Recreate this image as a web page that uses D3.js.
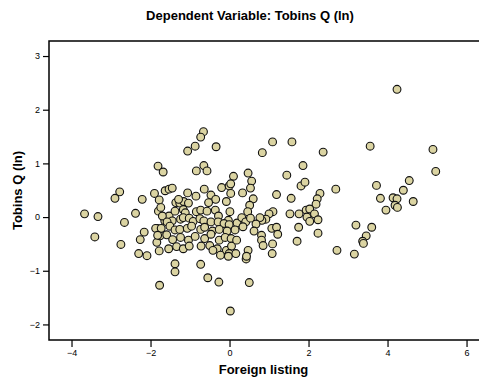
<!DOCTYPE html>
<html>
<head>
<meta charset="utf-8">
<script src="https://cdn.jsdelivr.net/npm/d3@7"></script>
<style>
  body { margin: 0; background: #fff; }
  svg text { font-family: "Liberation Sans", Arial, sans-serif; fill: #000; }
</style>
</head>
<body>
<div id="chart"></div>
<script>
// values
const chartTitle = 'Dependent Variable: Tobins Q (ln)';
const xTitle = 'Foreign listing';
const yTitle = 'Tobins Q (ln)';
const xTicks = [-4, -2, 0, 2, 4, 6];
const yTicks = [-2, -1, 0, 1, 2, 3];

// foreign listing (x) and Tobins Q ln (y), one pair per firm
const foreignListing = [
  -3.67, -3.33, -2.66, -2.38, -3.41, -2.75, -2.16, -2.26, -2.30, -2.09,
  -1.78, -1.54, -1.38, -1.38, -1.77, -1.84, -1.83, -1.76, -1.59, -1.64,
  -1.53, -1.80, -1.74, -1.06, -1.81, -1.68, -2.78, -2.90, -2.21, -1.90,
  -1.78, -1.63, -1.53, -1.45, -1.06, -0.87, -0.34, -0.66, -0.73, -0.65,
  -0.84, -0.57, 0.10, -0.85, -0.64, -0.47, -0.20, -0.01, 0.03, 0.03,
  -0.08, -0.35, -0.53, -1.36, -1.26, -1.16, -1.04, -1.29, -1.38, -1.17,
  -1.12, -0.84, -0.73, -0.57, -0.36, -0.28, 0.01, -0.03, 0.19, -1.70,
  -1.45, -1.58, -1.24, -1.17, -1.02, -0.92, -0.75, -0.65, -0.47, -0.29,
  -0.14, -0.01, -1.87, -1.73, -1.51, -1.38, -1.26, -1.07, -0.96, -0.73,
  -0.63, -0.43, -0.26, -0.06, 0.14, -1.82, -1.44, -1.24, -1.04, -0.87,
  -0.63, -0.47, -0.26, -0.11, 0.04, -1.34, -1.17, -1.02, -0.72, -0.50,
  -0.31, -0.08, 0.05, -0.23, -0.01, -0.73, -0.55, -0.27, 0.02, 0.50,
  0.42, -0.03, -0.42, 1.09, 1.58, 0.83, 2.37, 1.86, 1.45, 1.81,
  1.91, 0.47, 0.56, 0.53, 0.33, 1.19, 1.56, 2.29, 2.69, 2.22,
  2.19, 0.60, 0.51, 1.10, 1.00, 0.92, 0.82, 0.77, 1.53, 1.76,
  1.94, 2.03, 2.15, 1.96, 2.03, 2.24, 1.75, 2.24, 1.71, 0.46,
  0.31, 0.41, 0.53, 0.67, 1.07, 1.19, 1.22, 0.62, 0.81, 0.81,
  0.85, 1.09, 1.08, 0.47, 0.18, 0.34, 0.43, 0.16, 2.72, 3.16,
  3.20, 3.60, 3.46, 3.37, 3.39, 3.72, 4.55, 4.40, 3.82, 4.14,
  4.24, 4.19, 4.25, 3.96, 4.65, 4.24, 3.56, 5.15, 5.22
];
const tobinsQ = [
  0.06, 0.01, -0.10, 0.07, -0.37, -0.51, -0.28, -0.42, -0.68, -0.72,
  -0.63, -0.59, -0.87, -1.02, -1.27, -0.47, -0.21, -0.35, -0.33, -0.07,
  0.02, 0.11, 0.18, 1.23, 0.95, 0.84, 0.47, 0.35, 0.33, 0.44,
  0.32, 0.49, 0.52, 0.54, 0.45, 1.32, 1.31, 1.59, 1.49, 0.96,
  0.86, 0.86, 0.76, 0.39, 0.52, 0.41, 0.55, 0.58, 0.62, 0.44,
  0.29, 0.33, 0.27, 0.27, 0.26, 0.29, 0.26, 0.33, 0.11, 0.14,
  0.08, 0.10, 0.13, 0.11, 0.13, 0.02, 0.10, -0.06, -0.11, 0.02,
  -0.07, -0.09, -0.04, -0.01, -0.02, -0.08, -0.03, -0.07, -0.09, -0.09,
  -0.12, -0.14, -0.21, -0.21, -0.17, -0.24, -0.23, -0.21, -0.17, -0.23,
  -0.19, -0.26, -0.23, -0.26, -0.24, -0.34, -0.42, -0.38, -0.43, -0.36,
  -0.40, -0.32, -0.43, -0.38, -0.40, -0.55, -0.59, -0.54, -0.54, -0.53,
  -0.59, -0.62, -0.54, -0.71, -0.68, -0.88, -1.13, -1.21, -1.75, -1.22,
  -0.78, -0.73, -0.62, 1.40, 1.40, 1.20, 1.21, 0.96, 0.78, 0.58,
  0.65, 0.82, 0.67, 0.54, 0.45, 0.42, 0.35, 0.44, 0.52, 0.34,
  0.24, 0.34, 0.22, 0.10, 0.06, -0.04, -0.06, -0.01, 0.06, 0.06,
  0.13, 0.15, 0.06, 0.00, -0.08, -0.05, -0.19, -0.30, -0.45, 0.10,
  -0.01, -0.09, -0.02, -0.13, -0.21, -0.19, -0.32, -0.26, -0.34, -0.43,
  -0.53, -0.50, -0.68, -0.62, -0.43, -0.18, -0.73, -0.68, -0.62, -0.69,
  -0.15, -0.19, -0.35, -0.45, -0.49, 0.59, 0.68, 0.50, 0.35, 0.36,
  0.34, 0.22, 0.18, 0.13, 0.29, 2.38, 1.32, 1.26, 0.85
];

const width = 479;
const height = 389;
const plot = { left: 49, right: 478, top: 41, bottom: 340 };

const svg = d3
  .select('#chart')
  .append('svg')
  .attr('width', width)
  .attr('height', height);

const x = d3.scaleLinear().domain([-4.57, 6.29]).range([plot.left, plot.right]);
const y = d3.scaleLinear().domain([-2.29, 3.28]).range([plot.bottom, plot.top]);

// Title
svg.append('text')
  .attr('x', 250)
  .attr('y', 20)
  .attr('text-anchor', 'middle')
  .style('font-size', '13px')
  .style('font-weight', 'bold')
  .text(chartTitle);

// Add X axis
const xAxis = svg.append('g')
  .attr('transform', `translate(0, ${plot.bottom})`)
  .call(d3.axisBottom(x).tickValues(xTicks).tickFormat(d3.format('d')).tickSize(7).tickSizeOuter(0).tickPadding(3));

// Add Y axis
const yAxis = svg.append('g')
  .attr('transform', `translate(${plot.left}, 0)`)
  .call(d3.axisLeft(y).tickValues(yTicks).tickFormat(d3.format('d')).tickSize(6).tickSizeOuter(0).tickPadding(3));

[xAxis, yAxis].forEach((g) => {
  g.select('.domain').remove();
  g.selectAll('.tick line').attr('stroke', '#000').attr('stroke-width', 1.2);
  g.selectAll('.tick text').style('font-size', '9px').style('font-family', '"Liberation Sans", Arial, sans-serif');
});

// frame around the plot area
svg.append('rect')
  .attr('x', plot.left)
  .attr('y', plot.top)
  .attr('width', plot.right - plot.left + 4)
  .attr('height', plot.bottom - plot.top)
  .attr('fill', 'none')
  .attr('stroke', '#000')
  .attr('stroke-width', 1.5);

// Axis titles
svg.append('text')
  .attr('x', (plot.left + plot.right) / 2)
  .attr('y', 374)
  .attr('text-anchor', 'middle')
  .style('font-size', '13px')
  .style('font-weight', 'bold')
  .text(xTitle);

svg.append('text')
  .attr('transform', `translate(22, ${(plot.top + plot.bottom) / 2}) rotate(-90)`)
  .attr('text-anchor', 'middle')
  .style('font-size', '13px')
  .style('font-weight', 'bold')
  .text(yTitle);

// Points
const points = foreignListing.map((v, i) => ({ fl: v, q: tobinsQ[i] }));

svg.append('g')
  .selectAll('circle')
  .data(points)
  .join('circle')
  .attr('cx', (d) => x(d.fl))
  .attr('cy', (d) => y(d.q))
  .attr('r', 3.9)
  .attr('fill', '#dbd4a2')
  .attr('stroke', '#111')
  .attr('stroke-width', 1.1);
</script>
</body>
</html>
